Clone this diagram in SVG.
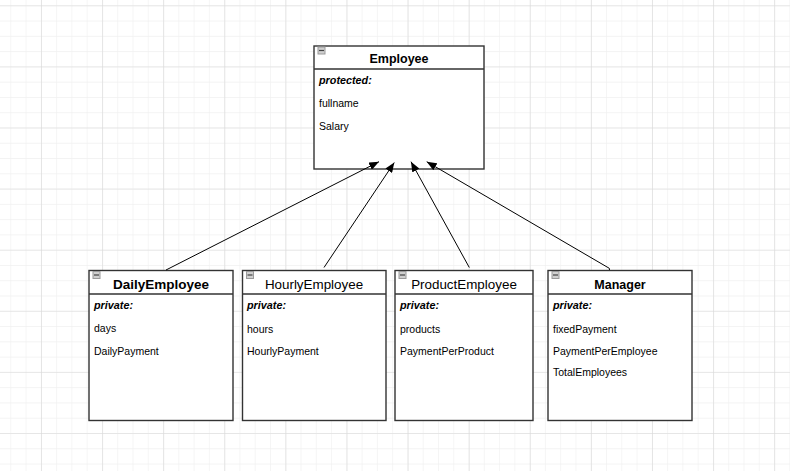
<svg xmlns="http://www.w3.org/2000/svg" width="790" height="471" viewBox="0 0 790 471">
<defs>
<pattern id="minor" x="10.3" y="5.3" width="15.275" height="15.275" patternUnits="userSpaceOnUse">
<path d="M0 0H15.275M0 0V15.275" fill="none" stroke="#f0f0f0" stroke-width="1.2"/>
</pattern>
<pattern id="major" x="41" y="5.3" width="61.1" height="61.1" patternUnits="userSpaceOnUse">
<path d="M0 0H61.1M0 0V61.1" fill="none" stroke="#d9d9d9" stroke-width="1.2"/>
</pattern>
<marker id="arr" viewBox="0 0 10 8" refX="10" refY="4" markerWidth="10" markerHeight="8" markerUnits="userSpaceOnUse" orient="auto">
<path d="M0 0L10 4L0 8z" fill="#000"/>
</marker>
<g id="icon">
<rect x="0.5" y="0.5" width="7" height="7" fill="#cfcfcf" stroke="#9a9a9a" stroke-width="1"/>
<line x1="1.5" y1="4" x2="6.5" y2="4" stroke="#444" stroke-width="1.2"/>
</g>
</defs>
<style>
.box{fill:#fff;stroke:#333;stroke-width:1.4}
.sep{stroke:#333;stroke-width:1.4}
.title{font-family:"Liberation Sans",Arial,sans-serif;font-size:12.5px;font-weight:bold;fill:#000;text-anchor:middle}
.title.reg{font-size:13.4px;font-weight:normal}
.vis{font-family:"Liberation Sans",Arial,sans-serif;font-size:10.8px;font-weight:bold;font-style:italic;fill:#000}
.attr{font-family:"Liberation Sans",Arial,sans-serif;font-size:10.5px;fill:#000}
.conn{stroke:#000;stroke-width:1;fill:none}
</style>
<rect width="790" height="471" fill="#fff"/>
<rect width="790" height="471" fill="url(#minor)"/>
<rect width="790" height="471" fill="url(#major)"/>

<g id="employee">
<rect class="box" x="314" y="46" width="170" height="123"/>
<line class="sep" x1="314" y1="69" x2="484" y2="69"/>
<use href="#icon" x="317.5" y="46.5"/>
<text class="title" x="399" y="63">Employee</text>
<text class="vis" x="319" y="83.5">protected:</text>
<text class="attr" x="319" y="106.5">fullname</text>
<text class="attr" x="319" y="129.5">Salary</text>
</g>

<g id="dailyEmployee">
<rect class="box" x="89" y="270.5" width="144" height="150"/>
<line class="sep" x1="89" y1="294" x2="233" y2="294"/>
<use href="#icon" x="92.5" y="271"/>
<text class="title" x="161" y="288.5" style="font-size:13.5px">DailyEmployee</text>
<text class="vis" x="94" y="308.5">private:</text>
<text class="attr" x="94" y="331.5">days</text>
<text class="attr" x="94" y="354.5">DailyPayment</text>
</g>

<g id="hourlyEmployee">
<rect class="box" x="242.5" y="270.5" width="143.5" height="150"/>
<line class="sep" x1="242.5" y1="294" x2="386" y2="294"/>
<use href="#icon" x="246" y="271"/>
<text class="title reg" x="314" y="288.5">HourlyEmployee</text>
<text class="vis" x="247" y="308.5">private:</text>
<text class="attr" x="247" y="332.5">hours</text>
<text class="attr" x="247" y="355">HourlyPayment</text>
</g>

<g id="productEmployee">
<rect class="box" x="395" y="270.5" width="138" height="150"/>
<line class="sep" x1="395" y1="294" x2="533" y2="294"/>
<use href="#icon" x="398.5" y="271"/>
<text class="title reg" x="464" y="288.5">ProductEmployee</text>
<text class="vis" x="400" y="308.5">private:</text>
<text class="attr" x="400" y="332.5">products</text>
<text class="attr" x="400" y="355">PaymentPerProduct</text>
</g>

<g id="manager">
<rect class="box" x="548" y="270.5" width="144" height="150"/>
<line class="sep" x1="548" y1="294" x2="692" y2="294"/>
<use href="#icon" x="551.5" y="271"/>
<text class="title" x="620" y="288.5">Manager</text>
<text class="vis" x="553" y="308.5">private:</text>
<text class="attr" x="553" y="332.5">fixedPayment</text>
<text class="attr" x="553" y="355">PaymentPerEmployee</text>
<text class="attr" x="553" y="376">TotalEmployees</text>
</g>

<g id="connectors">
<line class="conn" x1="166" y1="270" x2="379" y2="161.7" marker-end="url(#arr)"/>
<line class="conn" x1="324" y1="267.5" x2="394.3" y2="162.5" marker-end="url(#arr)"/>
<line class="conn" x1="469.3" y1="267.5" x2="411" y2="161.7" marker-end="url(#arr)"/>
<polyline class="conn" points="609.5,270 609.3,268.3 426.7,161.7" marker-end="url(#arr)"/>
</g>
</svg>
